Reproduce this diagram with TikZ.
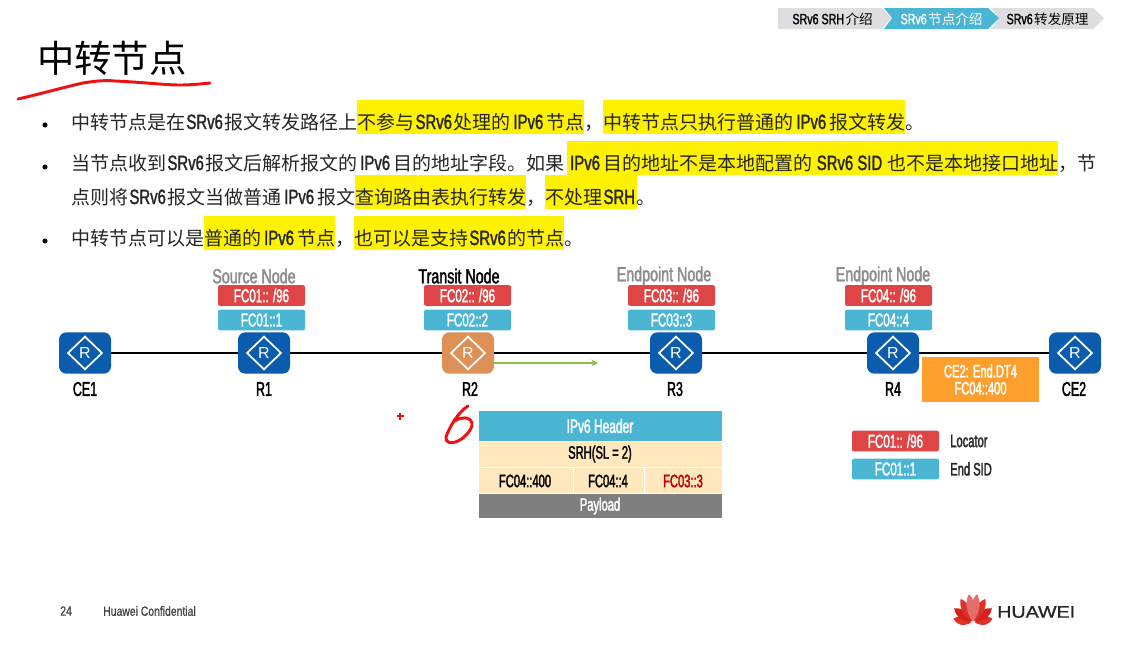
\documentclass[tikz,border=0pt]{standalone}
\usepackage{fontspec}
\usetikzlibrary{shapes.geometric,arrows.meta}
\setmainfont{Noto Sans CJK SC}
\newfontfamily\narrowbold[FakeStretch=0.62,FakeBold=1.8]{Liberation Sans}
\newfontfamily\titlefont[FakeStretch=0.7,FakeBold=1.8]{Liberation Sans}
\newfontfamily\inlinelat[FakeStretch=0.72,FakeBold=1.5,Scale=1.09]{Liberation Sans}
\newfontfamily\plainfont{Liberation Sans}
\newfontfamily\footfont[FakeStretch=0.78,FakeBold=0.6]{Liberation Sans}
\newfontfamily\logofont[FakeStretch=1.18,FakeBold=1]{Liberation Sans}
\newcommand{\lt}[1]{\kern0.9pt{\inlinelat #1}\kern1.1pt}
\newcommand{\ipt}[1]{\kern2.2pt{\inlinelat #1}\kern2.4pt}
\newcommand{\hl}[1]{{\setlength{\fboxsep}{0pt}\colorbox{hlyellow}{\rule[-3.5pt]{0pt}{25.2pt}#1}}}
\definecolor{hlyellow}{HTML}{FFF200}
\definecolor{rblue}{HTML}{0B5CAD}
\definecolor{rorange}{HTML}{DD9157}
\definecolor{locred}{HTML}{E04545}
\definecolor{sidblue}{HTML}{4BB6D4}
\definecolor{cream}{HTML}{FFE8BE}
\definecolor{orangebox}{HTML}{FF9F2D}
\definecolor{payload}{HTML}{7F7F7F}
\definecolor{crumb}{HTML}{DEDEE0}
\definecolor{inkred}{HTML}{F01010}
\definecolor{arrowgreen}{HTML}{8DBE4F}
\definecolor{titlegrey}{HTML}{8C8C8C}
\definecolor{huaweired}{HTML}{D9201A}
\tikzset{
  x=0.75pt,y=-0.75pt,
  bodyline/.style={anchor=base west,inner sep=0pt,font=\fontsize{14.25}{17}\selectfont,text=black!85},
  routerbox/.style={rounded corners=5.5pt,minimum width=39pt,minimum height=31pt,inner sep=0pt,draw=none},
  routermark/.style={diamond,draw=white,line width=1.3pt,minimum width=26pt,minimum height=25pt,inner sep=0pt},
  routerletter/.style={inner sep=0pt,text=white,font=\plainfont\fontsize{12}{12}\selectfont},
  routername/.style={inner sep=0pt,font=\narrowbold\fontsize{15}{15}\selectfont,text=black},
  nodetitle/.style={inner sep=0pt,font=\titlefont\fontsize{15.3}{15.3}\selectfont},
  addrbox/.style={rounded corners=1.5pt,minimum width=65.25pt,minimum height=15.5pt,inner sep=0pt,text=white,font=\narrowbold\fontsize{14}{14}\selectfont},
  locbox/.style={addrbox,fill=locred},
  sidbox/.style={addrbox,fill=sidblue},
  pkttext/.style={inner sep=0pt,font=\narrowbold\fontsize{13.5}{13.5}\selectfont,text=black},
  crumbtext/.style={inner sep=0pt,font=\fontsize{10.2}{12}\selectfont},
  inkline/.style={draw=inkred,line width=1.5pt,line cap=round,line join=round},
  linkline/.style={draw=black,line width=2pt},
  bulletdot/.style={circle,fill=black,minimum size=3.8pt,inner sep=0pt},
  legendtext/.style={anchor=west,inner sep=0pt,font=\narrowbold\fontsize{13.5}{13.5}\selectfont,text=black!85},
  footertext/.style={inner sep=0pt,font=\footfont\fontsize{10}{10}\selectfont,text=black!75}
}
\newcommand{\router}[4]{%
  \node[routerbox,fill=#4] (#1) at (#2,#3) {};
  \node[routermark] (#1m) at (#1) {};
  \node[routerletter] (#1t) at (#1) {R};
}
\newcommand{\petal}[3]{%
  \fill[huaweired!#3!white,rotate around={#1:(973,623)}]
    (973,621) .. controls (966.5,621-0.4*#2) and (968.5,621-0.8*#2) .. (973,621-#2)
    .. controls (977.5,621-0.8*#2) and (979.5,621-0.4*#2) .. (973,621) -- cycle;
}
\begin{document}
\begin{tikzpicture}
\useasboundingbox (0,0) rectangle (1136,644);
\fill[white] (0,0) rectangle (1136,644);

% breadcrumb
\fill[crumb] (778,8) -- (882,8) -- (891,18) -- (882,29) -- (778,29) -- cycle;
\fill[crumb] (991,8) -- (1093,8) -- (1104,18) -- (1093,29) -- (991,29) -- (999,18) -- cycle;
\fill[sidblue] (884,8) -- (988,8) -- (999,18) -- (988,29) -- (884,29) -- (892,18) -- cycle;
\node[crumbtext,text=black] (cr1) at (832,19) {\lt{SRv6 SRH}介绍};
\node[crumbtext,text=white] (cr2) at (941,19) {\lt{SRv6}节点介绍};
\node[crumbtext,text=black] (cr3) at (1047,19) {\lt{SRv6}转发原理};

% title
\node[anchor=base west,inner sep=0pt,font=\fontsize{28}{30}\selectfont,text=black] (title) at (37,72) {中转节点};
\draw[inkline,line width=2.2pt] (18,99) .. controls (40,94) and (65,87) .. (83,83) .. controls (95,81) and (105,80) .. (115,81) .. controls (140,82) and (165,85) .. (180,85) .. controls (190,85) and (200,84) .. (210,83);

% body
\node[bulletdot] (b1) at (45,125) {};
\node[bulletdot] (b2) at (45,167) {};
\node[bulletdot] (b3) at (45,241) {};
\node[bodyline] (l1) at (71,129) {中转节点是在\lt{SRv6}报文转发路径上\hl{不参与\lt{SRv6}处理的\ipt{IPv6}节点}，\hl{中转节点只执行普通的\ipt{IPv6}报文转发}。};
\node[bodyline] (l2) at (71,170) {当节点收到\lt{SRv6}报文后解析报文的\ipt{IPv6}目的地址字段。如果\kern2.2pt\hl{\ipt{IPv6}目的地址不是本地配置的\kern2.5pt\lt{SRv6 SID}\kern2.5pt也不是本地接口地址}，节};
\node[bodyline] (l3) at (71,204) {点则将\lt{SRv6}报文当做普通\ipt{IPv6}报文\hl{查询路由表执行转发}，\hl{不处理\lt{SRH}}。};
\node[bodyline] (l4) at (71,245) {中转节点可以是\hl{普通的\ipt{IPv6}节点}，\hl{也可以是支持\lt{SRv6}的节点}。};

% routers
\router{ce1}{85}{353}{rblue}
\router{r1}{264}{353}{rblue}
\router{r2}{468}{353}{rorange}
\router{r3}{676}{353}{rblue}
\router{r4}{893}{353}{rblue}
\router{ce2}{1075}{353}{rblue}
\draw[linkline] (ce1) -- (r1);
\draw[linkline] (r1) -- (r2);
\draw[linkline] (r2) -- (r3);
\draw[linkline] (r3) -- (r4);
\draw[linkline] (r4) -- (ce2);

\node[routername] (n1) at (85,389) {CE1};
\node[routername] (n2) at (264,389) {R1};
\node[routername] (n3) at (470,389) {R2};
\node[routername] (n4) at (675,389) {R3};
\node[routername] (n5) at (893,389) {R4};
\node[routername] (n6) at (1074,389) {CE2};

% titles
\node[nodetitle,text=titlegrey] (t1) at (254,276) {Source Node};
\node[nodetitle,text=black] (t2) at (459,276) {Transit Node};
\node[nodetitle,text=titlegrey] (t3) at (664,276) {Endpoint Node};
\node[nodetitle,text=titlegrey] (t4) at (883,276) {Endpoint Node};

% address boxes
\node[locbox] (a1) at (261.5,295.5) {FC01:: /96};
\node[sidbox] (s1) at (261.5,320) {FC01::1};
\node[locbox] (a2) at (467.5,295.5) {FC02:: /96};
\node[sidbox] (s2) at (467.5,320) {FC02::2};
\node[locbox] (a3) at (671.5,295.5) {FC03:: /96};
\node[sidbox] (s3) at (671.5,320) {FC03::3};
\node[locbox] (a4) at (888.5,295.5) {FC04:: /96};
\node[sidbox] (s4) at (888.5,320) {FC04::4};

\node[fill=orangebox,minimum width=87.75pt,minimum height=33.75pt,inner sep=0pt,text=white,align=center,font=\narrowbold\fontsize{13.5}{12.75}\selectfont] (dt4) at (980.5,379.5) {CE2: End.DT4\\FC04::400};

% green arrow
\coordinate (gs) at (494,363);
\coordinate (ge) at (598,363);
\draw[draw=arrowgreen,line width=1.6pt,-{Stealth[length=5pt,width=5pt]}] (gs) -- (ge);

% packet
\fill[sidblue] (479,411) rectangle (722,440.5);
\fill[cream] (479,441.5) rectangle (722,467);
\fill[cream] (479,468) rectangle (572.5,493);
\fill[cream] (573.5,468) rectangle (644,493);
\fill[cream] (645,468) rectangle (722,493);
\fill[payload] (479,494) rectangle (722,518);
\node[pkttext,text=white,font=\narrowbold\fontsize{14.5}{14.5}\selectfont] (p1) at (600,426) {IPv6 Header};
\node[pkttext] (p2) at (600,454) {SRH(SL = 2)};
\node[pkttext] (p3) at (525,481) {FC04::400};
\node[pkttext] (p4) at (608,481) {FC04::4};
\node[pkttext,text=red!75!black] (p5) at (683,481) {FC03::3};
\node[pkttext,text=white] (p6) at (600,506) {Payload};

% legend
\node[locbox] (la) at (895.5,441) {FC01:: /96};
\node[sidbox] (ls) at (895.5,469) {FC01::1};
\node[legendtext] (lt1) at (950,441) {Locator};
\node[legendtext] (lt2) at (950,469) {End SID};

% handwriting
\draw[inkline,line width=2.2pt] (468,406) .. controls (458,412) and (449,428) .. (446,437) .. controls (445,443) and (451,444) .. (458,441) .. controls (466,437) and (473,428) .. (472,423) .. controls (470,416) and (460,417) .. (455,421);
\draw[draw=inkred,line width=1pt] (396.5,416) -- (403.5,416);
\draw[draw=inkred,line width=1pt] (400,412.5) -- (400,419.5);

% footer
\node[footertext,anchor=west] (f1) at (60,611) {24};
\node[footertext,anchor=west] (f2) at (103,611) {Huawei Confidential};

% logo
\petal{-78}{18}{92}
\petal{78}{18}{92}
\petal{-52}{22}{100}
\petal{52}{22}{100}
\petal{-27}{25}{92}
\petal{27}{25}{92}
\petal{-8}{27}{65}
\petal{8}{27}{65}
\node[anchor=west,inner sep=0pt,text=black!85,font=\logofont\fontsize{12.5}{12.5}\selectfont] (hw) at (997,612) {HUAWEI};
\end{tikzpicture}
\end{document}
